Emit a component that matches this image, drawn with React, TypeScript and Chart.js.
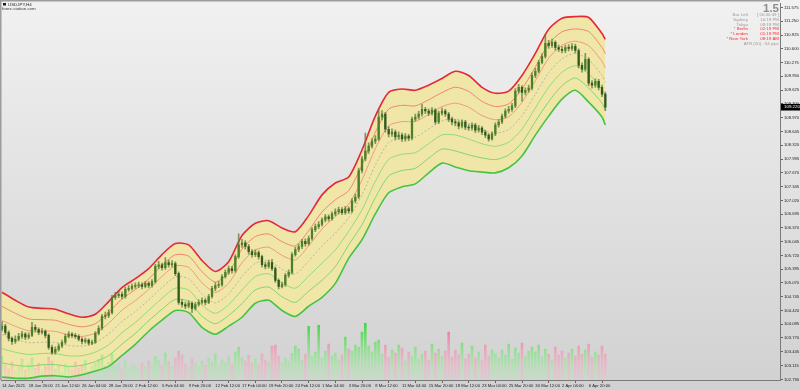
import React, { useEffect, useRef } from "react";
import { Chart, registerables } from "chart.js";
Chart.register(...registerables);

// ---- x axis (candle index units, one candle = 8 hours) ----
const xLabels = ["14 Jan 2021","18 Jan 20:00","21 Jan 12:00","26 Jan 04:00","28 Jan 20:00","2 Feb 12:00","5 Feb 04:00","9 Feb 20:00","12 Feb 12:00","17 Feb 04:00","19 Feb 20:00","24 Feb 12:00","1 Mar 04:00","3 Mar 20:00","8 Mar 12:00","11 Mar 04:00","15 Mar 20:00","18 Mar 12:00","23 Mar 04:00","25 Mar 20:00","30 Mar 12:00","2 Apr 04:00","6 Apr 20:00"];
const xTickPos = [0,8,16,24,32,40,48,56,64,72,80,88,96,104,112,120,128,136,144,152,160,168,176];

// ---- y axis tick labels ----
const yTickValues = [111.575,111.25,110.925,110.6,110.275,109.95,109.625,109.3,108.97,108.645,108.32,107.995,107.67,107.345,107.02,106.695,106.37,106.045,105.72,105.395,105.07,104.745,104.42,104.095,103.77,103.445,103.115,102.79];

// ---- candles ----
const firstOpen = 103.98;
const closes = [
104.05,103.90,103.76,103.69,103.74,103.81,103.86,103.79,103.83,104.02,
103.97,103.90,103.93,103.83,103.55,103.43,103.50,103.58,103.67,103.81,
103.86,103.83,103.81,103.74,103.69,103.72,103.65,103.67,103.88,104.00,
104.28,104.30,104.37,104.73,104.77,104.80,104.75,104.92,104.94,104.99,
105.01,105.03,104.99,105.06,105.01,105.10,105.46,105.50,105.43,105.55,
105.50,105.53,105.29,104.61,104.56,104.52,104.59,104.47,104.56,104.61,
104.66,104.61,104.75,104.94,105.01,105.03,105.22,105.32,105.41,105.36,
105.69,105.97,106.02,105.93,105.81,105.74,105.79,105.69,105.50,105.46,
105.55,105.41,105.13,104.99,105.03,105.25,105.32,105.74,105.86,105.93,
106.05,106.00,106.12,106.33,106.40,106.45,106.56,106.63,106.59,106.70,
106.75,106.80,106.73,106.82,106.77,107.01,107.10,107.72,108.00,108.19,
108.30,108.42,108.47,108.99,109.06,108.70,108.59,108.63,108.52,108.56,
108.47,108.54,108.49,108.94,108.99,109.06,109.17,109.13,109.08,109.15,
108.87,109.08,109.13,109.06,108.94,108.87,108.85,108.77,108.87,108.75,
108.73,108.80,108.68,108.73,108.63,108.56,108.47,108.59,108.80,108.87,
109.01,109.13,109.17,109.25,109.60,109.69,109.57,109.62,109.67,109.97,
110.07,110.28,110.42,110.73,110.68,110.75,110.63,110.59,110.56,110.63,
110.61,110.66,110.56,110.21,110.12,110.35,109.79,109.74,109.83,109.69,
109.53,109.22];
const highs = [
104.16,104.09,103.94,103.80,103.82,103.88,103.93,103.90,103.89,104.14,
104.08,104.01,103.99,103.96,103.87,103.60,103.56,103.63,103.72,103.86,
103.92,103.90,103.88,103.85,103.78,103.77,103.75,103.72,103.92,104.06,
104.33,104.38,104.44,104.78,104.85,104.88,104.86,104.97,105.01,105.05,
105.07,105.09,105.07,105.11,105.10,105.15,105.51,105.58,105.54,105.67,
105.61,105.60,105.57,105.33,104.68,104.62,104.65,104.63,104.61,104.67,
104.72,104.70,104.80,104.99,105.08,105.10,105.27,105.38,105.47,105.46,
105.74,106.23,106.10,106.07,105.98,105.86,105.85,105.83,105.73,105.56,
105.61,105.63,105.45,105.17,105.09,105.30,105.38,105.79,105.92,105.99,
106.10,106.11,106.18,106.38,106.46,106.52,106.61,106.69,106.68,106.75,
106.82,106.86,106.85,106.88,106.87,107.06,107.17,107.78,108.06,108.61,
108.38,108.48,108.55,109.17,109.14,109.10,108.76,108.71,108.68,108.64,
108.61,108.60,108.58,108.99,109.06,109.12,109.29,109.22,109.18,109.21,
109.19,109.13,109.20,109.17,109.10,108.99,108.93,108.90,108.92,108.91,
108.81,108.85,108.84,108.79,108.77,108.68,108.60,108.64,108.85,108.93,
109.06,109.18,109.24,109.31,109.66,109.76,109.73,109.68,109.74,110.03,
110.14,110.33,110.48,110.94,110.80,110.83,110.79,110.69,110.65,110.69,
110.70,110.72,110.71,110.60,110.27,110.49,110.39,109.85,109.89,109.88,
109.74,109.58];
const lows = [
103.93,103.85,103.70,103.62,103.64,103.70,103.76,103.73,103.75,103.80,
103.91,103.85,103.86,103.77,103.50,103.38,103.39,103.46,103.54,103.63,
103.77,103.78,103.76,103.70,103.63,103.65,103.60,103.61,103.64,103.84,
103.96,104.22,104.25,104.33,104.68,104.72,104.69,104.71,104.87,104.90,
104.94,104.96,104.93,104.95,104.96,104.97,105.06,105.41,105.37,105.39,
105.44,105.45,105.24,104.56,104.50,104.46,104.48,104.37,104.43,104.52,
104.57,104.55,104.58,104.71,104.89,104.96,104.99,105.18,105.27,105.30,
105.32,105.65,105.91,105.87,105.75,105.68,105.69,105.63,105.44,105.40,
105.42,105.36,105.08,104.93,104.95,104.99,105.20,105.28,105.70,105.81,
105.88,105.94,105.96,106.08,106.28,106.35,106.41,106.51,106.53,106.55,
106.65,106.70,106.68,106.69,106.71,106.73,106.96,107.06,107.67,107.95,
108.13,108.25,108.36,108.43,108.92,108.63,108.52,108.53,108.45,108.46,
108.41,108.42,108.43,108.45,108.89,108.94,109.01,109.07,109.02,109.03,
108.82,108.83,109.03,109.00,108.88,108.80,108.78,108.71,108.73,108.69,
108.67,108.68,108.62,108.63,108.57,108.50,108.42,108.44,108.55,108.75,
108.83,108.97,109.08,109.12,109.21,109.55,109.36,109.51,109.57,109.63,
109.92,110.03,110.24,110.38,110.61,110.63,110.57,110.53,110.50,110.51,
110.55,110.56,110.50,110.15,110.05,110.08,109.73,109.67,109.69,109.63,
109.47,109.14];

// ---- volume ----
const volumes = [
2400,1500,1100,1800,900,1300,2100,1000,1600,2200,
1200,1700,900,1400,2300,1900,1100,1500,800,1600,
1300,1000,1800,1200,1500,2000,900,1400,1700,2100,
2500,1400,1800,2600,1300,1600,1100,1900,1200,1500,
1400,1000,1700,1300,1900,1600,2400,2000,1500,2700,
1800,1400,2200,2900,2500,1600,1300,2100,1700,1400,
1900,1500,2200,1800,2600,1400,2000,1700,2300,1600,
2800,3300,2200,1900,2500,1700,2100,1500,2600,2000,
1800,3400,3500,2400,1700,2200,1900,2700,3400,3100,
2000,2600,5400,2400,2800,5500,2200,2900,3600,2400,
2700,2000,2500,4300,3100,2900,3500,3300,4800,5700,
3400,2800,3800,4000,2600,3500,2300,3000,2700,3500,
3200,1900,2800,2400,3300,2100,2600,2900,2000,3600,
2700,3100,2400,2900,4800,2300,3000,2500,3700,2100,
2600,3400,2200,2800,2000,3500,2400,3000,2600,2200,
3000,2500,3600,2100,3200,2700,3700,2400,2900,3300,
2800,3500,2300,3100,2600,2000,3300,2500,2900,2200,
2700,3100,2400,3400,2600,3000,3600,2300,2800,2500,
3400,2600];

// ---- envelope bands (outer) ----
const bandPos = [0,4,8,12,16,20,24,28,32,36,40,44,48,52,56,60,64,68,72,76,80,84,88,92,96,100,104,108,112,116,120,124,128,132,136,140,144,148,152,156,160,164,168,172,176,180,181];
const upperBand = [104.85,104.66,104.50,104.47,104.45,104.34,104.26,104.33,104.63,104.96,105.17,105.41,105.74,106.00,105.97,105.60,105.34,105.57,106.19,106.48,106.54,106.37,106.28,106.66,107.15,107.43,107.57,108.21,109.01,109.57,109.65,109.62,109.74,109.90,110.07,109.97,109.69,109.55,109.60,109.97,110.49,111.06,111.32,111.36,111.34,110.96,110.82];
const lowerBand = [102.85,102.82,102.82,102.87,102.88,102.85,102.90,102.99,103.10,103.36,103.62,103.93,104.19,104.42,104.37,104.02,103.86,104.05,104.26,104.59,104.66,104.42,104.28,104.52,104.73,105.06,105.65,106.09,106.70,107.20,107.34,107.41,107.67,107.90,107.81,107.72,107.69,107.67,107.79,108.07,108.56,109.01,109.41,109.62,109.34,108.99,108.80];

// ---- info panel ----
const infoLabels = ["Bar Left","Sydney","Tokyo","* Berlin","* London","* New York"];
const infoValues = ["[ 00:40:39 ]","10:19 PM","09:19 PM","02:19 PM","01:19 PM","08:19 AM"];
const infoRed = [false,false,false,true,true,true];
const atrText = "ATR (20) : 54 pips";
const symbolText = "USDJPY,H4";
const siteText = "forex-station.com";
const spreadText = "1.5";

const FONT = '"Liberation Sans", Arial, sans-serif';

export default function App() {
  const ref = useRef<HTMLCanvasElement>(null);
  useEffect(() => {
    document.body.style.margin = "0";
    const canvas = ref.current!;
    const opens = [firstOpen, ...closes.slice(0, -1)];
    const up = closes.map((c, i) => c >= opens[i]);
    const mid = upperBand.map((u, i) => (u + lowerBand[i]) / 2);
    const level = (f: number) => upperBand.map((u, i) => ({ x: bandPos[i], y: mid[i] + (u - mid[i]) * f }));
    const last = closes[closes.length - 1];

    let grads: any = null;
    const volColor = (c: any) => {
      const chart = c.chart;
      const a = chart.chartArea;
      if (!a) return "rgba(0,0,0,0)";
      if (!grads) {
        const g = chart.ctx.createLinearGradient(0, a.bottom - 58, 0, a.bottom);
        g.addColorStop(0, "rgba(60,214,60,1)");
        g.addColorStop(1, "rgba(180,240,180,0.3)");
        const r = chart.ctx.createLinearGradient(0, a.bottom - 58, 0, a.bottom);
        r.addColorStop(0, "rgba(236,110,148,1)");
        r.addColorStop(1, "rgba(244,186,204,0.3)");
        grads = { g, r };
      }
      return up[c.dataIndex] ? grads.g : grads.r;
    };

    const line = (f: number, color: string, width: number, dash: number[] = []) => ({
      type: "line" as const,
      data: level(f),
      borderColor: color,
      borderWidth: width,
      borderDash: dash,
      pointRadius: 0,
      tension: 0.25,
      fill: false,
      order: 2,
      yAxisID: "y",
    });

    const bg = {
      id: "mtbg",
      beforeDraw(chart: any) {
        const { ctx, width, height } = chart;
        ctx.save();
        const g = ctx.createLinearGradient(0, 0, 0, height);
        g.addColorStop(0, "#f1f1f1");
        g.addColorStop(1, "#d1d1d1");
        ctx.fillStyle = g;
        ctx.fillRect(0, 0, width, height);
        ctx.restore();
      },
      afterDraw(chart: any) {
        const { ctx } = chart;
        const a = chart.chartArea;
        ctx.save();
        ctx.fillStyle = "#9c9c9c";
        ctx.fillRect(0, 0, a.right, 1.5);
        ctx.fillRect(0, 0, 1.5, a.bottom);
        // top-left
        ctx.fillStyle = "#1e1e1e";
        ctx.fillRect(3, 3, 3, 2.5);
        ctx.font = `4.4px ${FONT}`;
        ctx.textBaseline = "middle";
        ctx.textAlign = "left";
        ctx.fillText(symbolText, 8, 4.5);
        ctx.fillStyle = "#3c3c3c";
        ctx.fillText(siteText, 2, 8.3);
        // top-right
        ctx.textAlign = "right";
        ctx.fillStyle = "#8d8d8d";
        ctx.font = `bold 11.5px ${FONT}`;
        ctx.textBaseline = "alphabetic";
        ctx.fillText(spreadText, 779, 12);
        ctx.font = `4.4px ${FONT}`;
        ctx.textBaseline = "middle";
        infoLabels.forEach((lab, r) => {
          const y = 15 + r * 4.72;
          ctx.fillStyle = infoRed[r] ? "#ff2b2b" : "#9a9a9a";
          ctx.fillText(lab, 748, y);
          ctx.fillText(infoValues[r], 779, y);
        });
        ctx.fillStyle = "#9a9a9a";
        ctx.fillText(atrText, 779, 15 + 6 * 4.72);
        // current price box
        const py = chart.scales.y.getPixelForValue(last);
        ctx.fillStyle = "#000";
        ctx.fillRect(781, py - 3.3, 19, 6.6);
        ctx.fillStyle = "#fff";
        ctx.textAlign = "left";
        ctx.fillText(last.toFixed(3), 784, py);
        ctx.restore();
      },
    };

    const chart = new Chart(canvas, {
      type: "bar",
      data: {
        datasets: [
          {
            type: "line",
            data: level(1),
            borderWidth: 0,
            borderColor: "rgba(0,0,0,0)",
            backgroundColor: "rgb(240,230,168)",
            pointRadius: 0,
            tension: 0.25,
            fill: 7,
            order: 10,
            yAxisID: "y",
          } as any,
          line(1, "#e5283a", 1.6),
          line(2 / 3, "#f0866f", 1),
          line(1 / 3, "#f09a84", 1),
          line(0, "#b8b5a6", 1, [2, 2]),
          line(-1 / 3, "#92dc78", 1),
          line(-2 / 3, "#7fd86a", 1),
          line(-1, "#45c43f", 1.6),
          {
            type: "bar",
            data: volumes.map((v, i) => ({ x: i, y: v })),
            backgroundColor: volColor,
            barThickness: 2,
            grouped: false,
            yAxisID: "yv",
            order: 5,
          } as any,
          {
            type: "bar",
            data: closes.map((_, i) => ({ x: i, y: [lows[i], highs[i]] })),
            backgroundColor: "rgba(96,122,62,0.75)",
            barThickness: 1,
            grouped: false,
            yAxisID: "y",
            order: 1,
          } as any,
          {
            type: "bar",
            data: closes.map((c, i) => ({ x: i, y: [opens[i], c] })),
            backgroundColor: closes.map((_, i) => (up[i] ? "#4a8028" : "#2f5a1c")),
            barThickness: 1.6,
            minBarLength: 1,
            grouped: false,
            yAxisID: "y",
            order: 0,
          } as any,
        ],
      },
      options: {
        responsive: false,
        animation: false,
        devicePixelRatio: 1,
        layout: { padding: { left: 1, top: 2, right: 0, bottom: 0 } },
        plugins: {
          legend: { display: false },
          tooltip: { enabled: false },
          title: { display: false },
        },
        scales: {
          x: {
            type: "linear",
            position: "bottom",
            min: -0.3,
            max: 233.4,
            offset: false,
            afterBuildTicks: (s: any) => {
              s.ticks = xTickPos.map((v) => ({ value: v }));
            },
            afterFit: (s: any) => {
              s.height = 10;
            },
            grid: { drawOnChartArea: false, drawTicks: true, tickLength: 3, color: "#666" },
            border: { display: true, color: "#7a7a7a", width: 1 },
            ticks: {
              autoSkip: false,
              maxRotation: 0,
              minRotation: 0,
              align: "start",
              padding: 0,
              color: "#222",
              font: { size: 4.2, family: FONT },
              callback: (_v: any, i: number) => xLabels[i],
            },
          },
          y: {
            type: "linear",
            position: "right",
            min: 102.778,
            max: 111.669,
            afterBuildTicks: (s: any) => {
              s.ticks = yTickValues.map((v) => ({ value: v }));
            },
            afterFit: (s: any) => {
              s.width = 20;
            },
            grid: { drawOnChartArea: false, drawTicks: true, tickLength: 3, color: "#666" },
            border: { display: true, color: "#7a7a7a", width: 1 },
            ticks: {
              padding: 1,
              color: "#222",
              font: { size: 4.2, family: FONT },
              callback: (v: any) => Number(v).toFixed(3),
            },
          },
          yv: { type: "linear", display: false, min: 0, max: 37800 },
        },
      } as any,
      plugins: [bg],
    });
    return () => chart.destroy();
  }, []);
  return (
    <div style={{ width: 800, height: 390 }}>
      <canvas ref={ref} width={800} height={390} style={{ display: "block" }} />
    </div>
  );
}
